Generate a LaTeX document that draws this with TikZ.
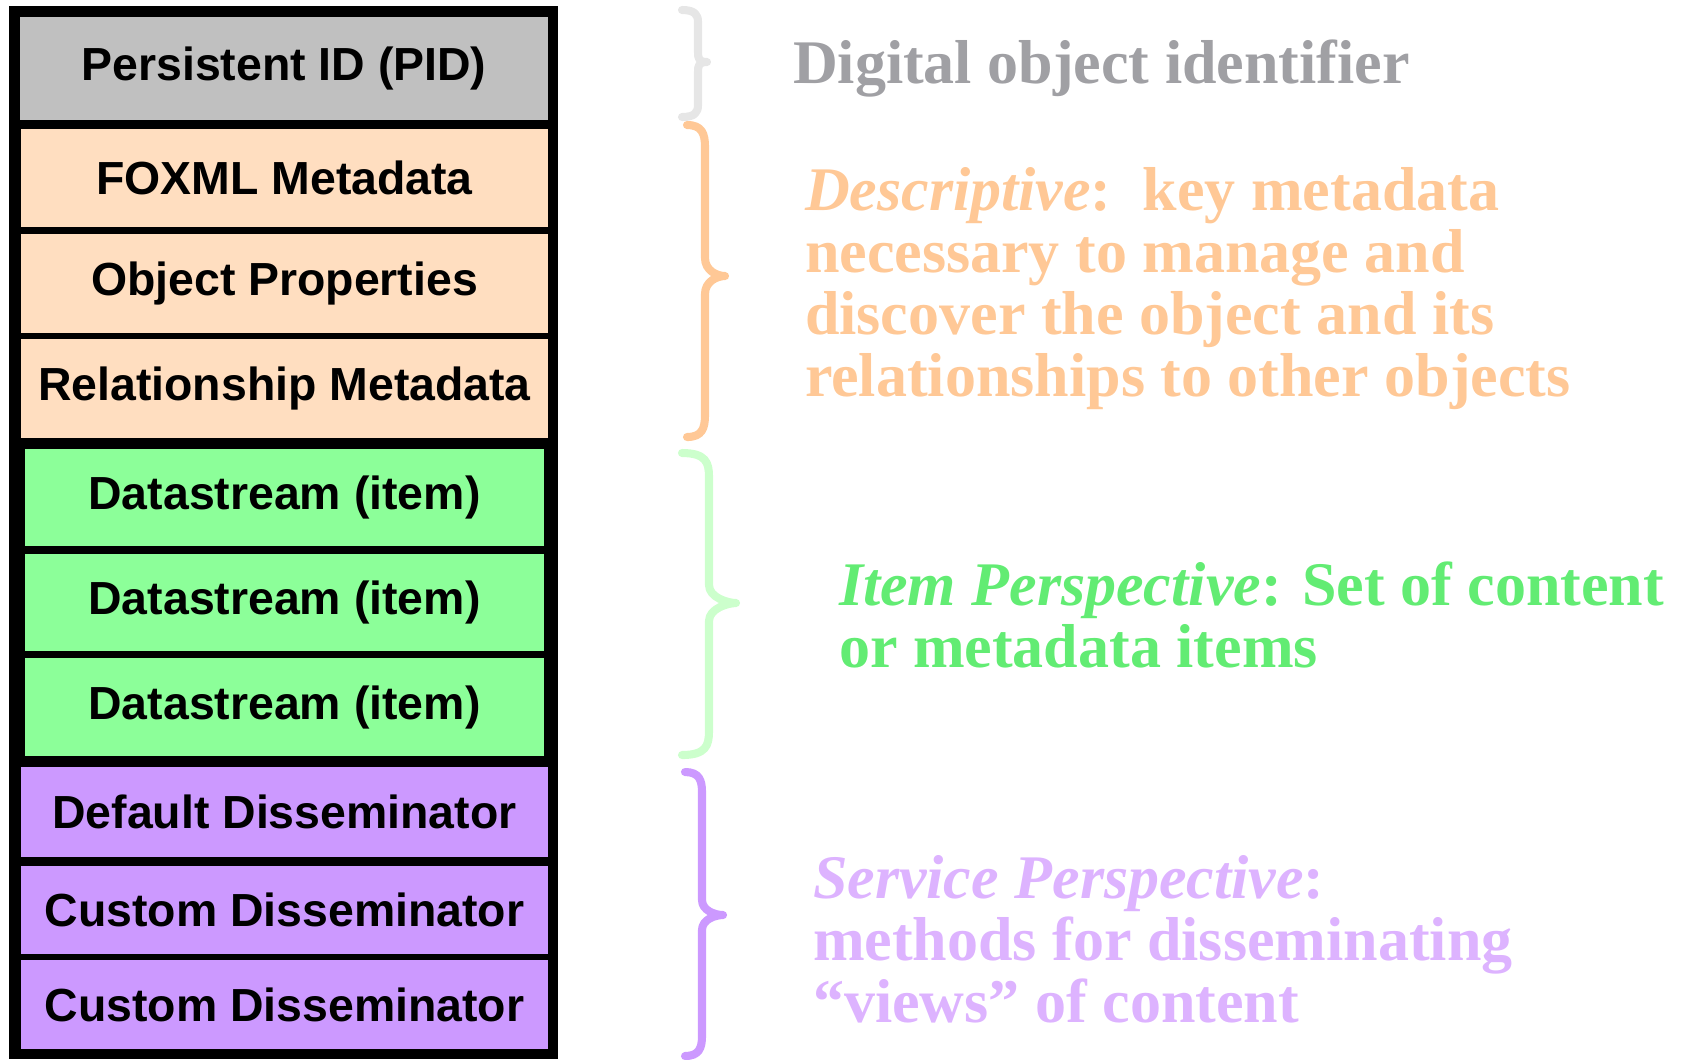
\documentclass[tikz,border=0pt]{standalone}
\usepackage{fontspec}
\setmainfont{Liberation Serif}
\newfontfamily\boxfont{Liberation Sans}
\definecolor{pidc}{RGB}{192,192,192}
\definecolor{descc}{RGB}{255,222,192}
\definecolor{itemc}{RGB}{140,255,153}
\definecolor{servc}{RGB}{204,153,255}
\definecolor{graytxt}{RGB}{160,160,164}
\definecolor{orangetxt}{RGB}{255,200,150}
\definecolor{greentxt}{RGB}{98,236,115}
\definecolor{purpletxt}{RGB}{221,179,255}
\definecolor{graybr}{RGB}{230,230,230}
\definecolor{orangebr}{RGB}{255,200,150}
\definecolor{greenbr}{RGB}{204,255,204}
\definecolor{purplebr}{RGB}{204,153,255}
\tikzset{
  layer/.style={rectangle, inner sep=0pt, outer sep=0pt, text=black,
    font=\boxfont\bfseries\fontsize{13.2pt}{13.2pt}\selectfont},
  wide/.style={minimum width=5.27cm},
  narrow/.style={minimum width=5.19cm},
  label/.style={anchor=base west, inner sep=0pt, outer sep=0pt,
    font=\bfseries\fontsize{17.64pt}{17.64pt}\selectfont},
  bracestyle/.style={line width=2.3pt, line cap=round, line join=round}
}
% #1 colour, #2 L (end x), #3 V (stem x), #4 P (tip x), #5 top y, #6 mid y, #7 bottom y, #8 end radius, #9 tip radius
\newcommand{\curlybrace}[9]{%
  \draw[bracestyle, draw=#1]
    (#2,#5) .. controls (#3-3,#5) and (#3,#5+#8*0.4) .. (#3,#5+#8)
    -- (#3,#6-#9) .. controls (#3,#6-#9*0.3) and (#4-8,#6) .. (#4,#6)
    .. controls (#4-8,#6) and (#3,#6+#9*0.3) .. (#3,#6+#9)
    -- (#3,#7-#8) .. controls (#3,#7-#8*0.4) and (#3-3,#7) .. (#2,#7);}
\begin{document}
\begin{tikzpicture}[x=0.01cm, y=-0.01cm]
\useasboundingbox (0,0) rectangle (1683,1059);
% outer black frame
\node[rectangle, fill=black, inner sep=0pt, minimum width=5.49cm, minimum height=10.53cm] (frame) at (283.5,532.5) {};
% layers
\node[layer, wide, fill=pidc,  minimum width=5.28cm, minimum height=1.03cm] (pid)  at (284,68.5)  {Persistent ID (PID)};
\node[layer, wide, fill=descc, minimum height=0.98cm] (foxml) at (284.5,178)   {FOXML Metadata};
\node[layer, wide, fill=descc, minimum height=0.99cm] (props) at (284.5,283.5) {Object Properties};
\node[layer, wide, fill=descc, minimum height=0.99cm] (rels)  at (284.5,388.5) {Relationship Metadata};
\node[layer, narrow, fill=itemc, minimum height=0.97cm] (ds1) at (284.5,497.5) {Datastream (item)};
\node[layer, narrow, fill=itemc, minimum height=0.97cm] (ds2) at (284.5,602.5) {Datastream (item)};
\node[layer, narrow, fill=itemc, minimum height=0.98cm] (ds3) at (284.5,707)   {Datastream (item)};
\node[layer, wide, fill=servc, minimum height=0.90cm] (ddis) at (284.5,812)    {Default Disseminator};
\node[layer, wide, fill=servc, minimum height=0.88cm] (cdis1) at (284.5,910)   {Custom Disseminator};
\node[layer, wide, fill=servc, minimum height=0.89cm] (cdis2) at (284.5,1004.5) {Custom Disseminator};
% braces
\curlybrace{graybr}{682}{698}{707}{10}{62}{117}{12}{10}
\curlybrace{orangebr}{687}{705}{725}{125}{276}{437}{22}{18}
\curlybrace{greenbr}{682}{709}{736}{453}{603}{755}{24}{18}
\curlybrace{purplebr}{685}{702}{723}{772}{915}{1056}{20}{15}
% descriptions
\node[label, text=graytxt] (dig) at (793,83) {Digital object identifier};
\node[label, text=orangetxt] (desc1) at (805,210) {\textit{Descriptive}:\ \ key metadata};
\node[label, text=orangetxt] (desc2) at (805,272) {necessary to manage and};
\node[label, text=orangetxt] (desc3) at (805,334) {discover the object and its};
\node[label, text=orangetxt] (desc4) at (805,396) {relationships to other objects};
\node[label, text=greentxt] (item1) at (839,605) {\textit{Item Perspective}: Set of content};
\node[label, text=greentxt] (item2) at (839,667) {or metadata items};
\node[label, text=purpletxt] (serv1) at (813,898) {\textit{Service Perspective}:};
\node[label, text=purpletxt] (serv2) at (813,960) {methods for disseminating};
\node[label, text=purpletxt] (serv3) at (813,1022) {“views” of content};
\end{tikzpicture}
\end{document}
